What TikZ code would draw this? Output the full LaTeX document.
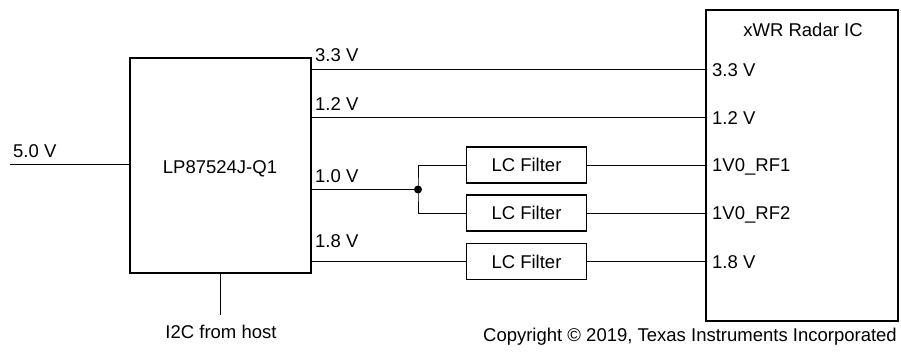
\documentclass[tikz,border=0pt]{standalone}
\usepackage{fontspec}
\setmainfont{Liberation Sans}
\begin{document}
\begin{tikzpicture}[x=1pt,y=-1pt,
  box/.style={draw,line width=1.8pt,inner sep=0pt},
  wire/.style={line width=0.9pt},
  lbl/.style={inner sep=0pt,text height=13.3pt,text depth=0pt},
  every node/.style={font=\fontsize{18.5}{22}\selectfont}]
\useasboundingbox (0,0) rectangle (901,358);
% main blocks
\node[box,minimum width=181pt,minimum height=215pt] (lp) at (220.5,165.5) {};
\node[lbl] (lpname) at (220,166.5) {LP87524J-Q1};
\node[box,minimum width=192pt,minimum height=311pt] (xwr) at (802,165.5) {};
\node[lbl,anchor=base] (xwrname) at (803,37) {xWR Radar IC};
% pin labels
\node[lbl,anchor=west] (p33) at (712,69.5) {3.3 V};
\node[lbl,anchor=west] (p12) at (712,117.5) {1.2 V};
\node[lbl,anchor=west] (prf1) at (712,165) {1V0\_RF1};
\node[lbl,anchor=west] (prf2) at (712,213) {1V0\_RF2};
\node[lbl,anchor=west] (p18) at (712,261.5) {1.8 V};
% filters
\node[box,minimum width=120pt,minimum height=36pt] (f1) at (526.5,165) {LC Filter};
\node[box,minimum width=120pt,minimum height=36pt] (f2) at (526.5,213) {LC Filter};
\node[box,minimum width=120pt,minimum height=36pt] (f3) at (526.5,261.5) {LC Filter};
% junction
\coordinate (j) at (418,189.5);
\fill (j) circle (4pt);
% rail labels
\node[lbl,anchor=base west] (l33) at (315,62) {3.3 V};
\node[lbl,anchor=base west] (l12) at (315,111) {1.2 V};
\node[lbl,anchor=base west] (l10) at (315,182.7) {1.0 V};
\node[lbl,anchor=base west] (l18) at (315,247.3) {1.8 V};
\node[lbl,anchor=base west] (l50) at (13,157.7) {5.0 V};
% input / control
\coordinate (in) at (10,164.5);
\coordinate (i2ctop) at (220,315);
\node[lbl,anchor=base] (i2c) at (221,338) {I2C from host};
% wires
\draw[wire] (in) -- (lp.west |- in);
\draw[wire] (lp.south -| i2ctop) -- (i2ctop);
\draw[wire] (lp.east |- p33) -- (xwr.west |- p33);
\draw[wire] (lp.east |- p12) -- (xwr.west |- p12);
\draw[wire] (lp.east |- j) -- (j);
\draw[wire] (f1.west) -| (j) |- (f2.west);
\draw[wire] (f1.east) -- (xwr.west |- f1.east);
\draw[wire] (f2.east) -- (xwr.west |- f2.east);
\draw[wire] (lp.east |- f3.west) -- (f3.west);
\draw[wire] (f3.east) -- (xwr.west |- f3.east);
% copyright
\node[inner sep=0pt,anchor=base east] (copy) at (897,341.7) {Copyright \textcopyright{} 2019, Texas Instruments Incorporated};
\end{tikzpicture}
\end{document}
